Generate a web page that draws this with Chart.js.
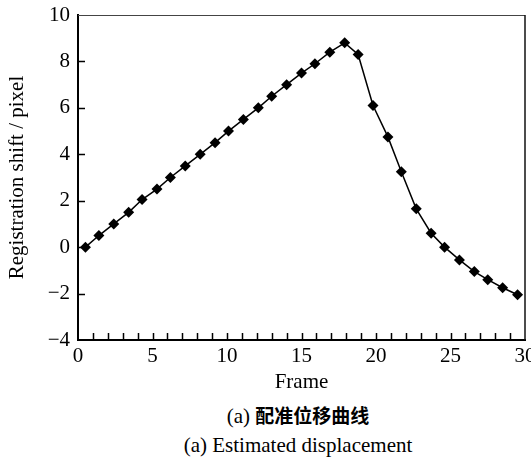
<!DOCTYPE html>
<html>
<head>
<meta charset="utf-8">
<script src="https://cdn.jsdelivr.net/npm/chart.js@4/dist/chart.umd.min.js"></script>
<style>
  body { margin: 0; background: #fff; }
  #wrap { position: relative; width: 531px; height: 467px; color: #000;
          font-family: "Liberation Serif", "Noto Sans CJK SC", serif; }
  #box { position: absolute; left: 0; top: 0; width: 531px; height: 395px; }
  .cap { position: absolute; left: 0; width: 596px; text-align: center;
         font-size: 21px; line-height: 24px; white-space: nowrap; }
  .zh { font-family: "Noto Sans CJK SC", sans-serif; font-weight: bold; font-size: 19px; }
</style>
</head>
<body>
<div id="wrap">
  <div id="box"><canvas id="chart"></canvas></div>
  <div class="cap" style="top:403px">(a) <span class="zh">配准位移曲线</span></div>
  <div class="cap" style="top:433px">(a) Estimated displacement</div>
</div>
<script>
// Values
const frames = [0.5, 1.4, 2.4, 3.4, 4.3, 5.3, 6.2, 7.2, 8.2, 9.2, 10.1, 11.1, 12.1, 13.0, 14.0, 15.0,
  15.9, 16.9, 17.9, 18.8, 19.8, 20.8, 21.7, 22.7, 23.7, 24.6, 25.6, 26.6, 27.5, 28.5, 29.5];
const shift = [0, 0.5, 1, 1.5, 2.05, 2.5, 3, 3.5, 4, 4.5, 5, 5.5, 6, 6.5, 7, 7.5,
  7.9, 8.4, 8.8, 8.3, 6.1, 4.75, 3.25, 1.65, 0.6, 0, -0.55, -1.05, -1.4, -1.75, -2.05];
const xTickLabels = [0, 5, 10, 15, 20, 25, 30];
const yTickLabels = [-4, -2, 0, 2, 4, 6, 8, 10];

const serif = '"Liberation Serif", "Times New Roman", serif';

// Inward tick marks plus the thin top / right frame
const frameTicks = {
  id: 'frameTicks',
  afterDraw(c) {
    const { ctx, chartArea: a, scales: { x, y } } = c;
    ctx.save();
    ctx.strokeStyle = '#000';
    ctx.lineWidth = 1.5;
    ctx.beginPath();
    x.ticks.forEach((t, i) => {
      if (t.value <= x.min || t.value >= x.max) return;
      const px = Math.round(x.getPixelForTick(i)) + 0.5;
      ctx.moveTo(px, a.bottom);
      ctx.lineTo(px, a.bottom - 7);
    });
    y.ticks.forEach((t, i) => {
      if (t.value <= y.min || t.value >= y.max) return;
      const py = Math.round(y.getPixelForTick(i)) + 0.5;
      ctx.moveTo(a.left, py);
      ctx.lineTo(a.left + 7, py);
    });
    ctx.stroke();
    // top border (thin, greyish) and right border
    ctx.lineWidth = 1;
    ctx.strokeStyle = '#444';
    ctx.beginPath();
    ctx.moveTo(a.left, a.top + 0.5);
    ctx.lineTo(a.right, a.top + 0.5);
    ctx.stroke();
    ctx.lineWidth = 1.5;
    ctx.strokeStyle = '#111';
    ctx.beginPath();
    ctx.moveTo(a.right, a.top);
    ctx.lineTo(a.right, a.bottom);
    ctx.stroke();
    ctx.restore();
  },
};

const chart = new Chart(document.getElementById('chart'), {
  type: 'line',
  data: {
    datasets: [{
      data: frames.map((f, i) => ({ x: f, y: shift[i] })),
      borderColor: '#000',
      borderWidth: 1.5,
      backgroundColor: '#000',
      pointStyle: 'rectRot',
      pointRadius: 5.5,
      pointBorderWidth: 0,
      tension: 0,
    }],
  },
  options: {
    responsive: true,
    maintainAspectRatio: false,
    animation: false,
    layout: {
      padding: { top: 15, right: 6, left: 0, bottom: 0 },
    },
    scales: {
      x: {
        type: 'linear',
        min: 0,
        max: 30,
        afterFit: (s) => { s.height = 55; s.paddingLeft = 0; s.paddingRight = 0; },
        border: { display: true, color: '#000', width: 2 },
        grid: { display: false, drawTicks: false },
        ticks: {
          stepSize: 1,
          autoSkip: false,
          maxRotation: 0,
          padding: 4,
          color: '#000',
          font: { family: serif, size: 21 },
          callback: (v) => (xTickLabels.includes(v) ? String(v) : ''),
        },
        title: {
          display: true,
          text: 'Frame',
          color: '#000',
          font: { family: serif, size: 21 },
          padding: { top: 0, bottom: 0 },
        },
      },
      y: {
        min: -4,
        max: 10,
        afterFit: (s) => { s.width = 78; s.paddingTop = 0; s.paddingBottom = 0; },
        border: { display: true, color: '#000', width: 2 },
        grid: { display: false, drawTicks: false },
        ticks: {
          stepSize: 2,
          padding: 8,
          color: '#000',
          font: { family: serif, size: 21 },
          callback: (v) => (yTickLabels.includes(v) ? String(v).replace('-', '\u2212') : ''),
        },
        title: {
          display: true,
          text: 'Registration shift / pixel',
          color: '#000',
          font: { family: serif, size: 21 },
          padding: { top: 5, bottom: 0 },
        },
      },
    },
    plugins: {
      legend: { display: false },
      tooltip: { enabled: false },
    },
  },
  plugins: [frameTicks],
});
</script>
</body>
</html>
